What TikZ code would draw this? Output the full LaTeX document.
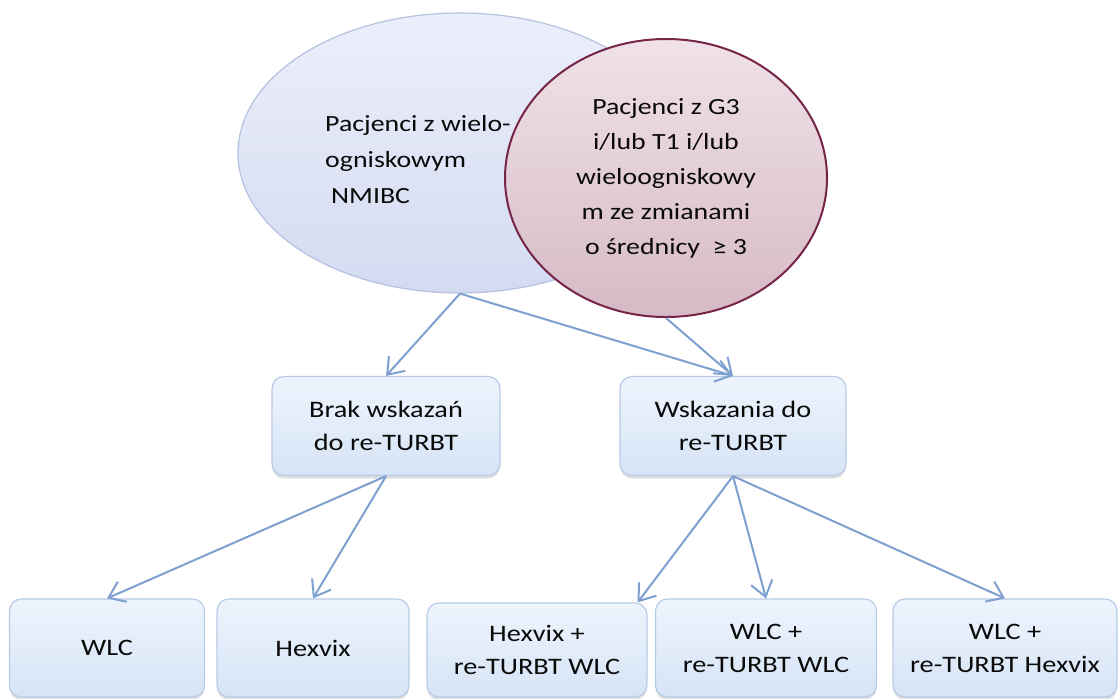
\documentclass[tikz,border=0pt]{standalone}
\usepackage{fontspec}
\setmainfont{Carlito}[FakeStretch=1.2]
\usetikzlibrary{shapes.geometric,shadows,arrows.meta}

\definecolor{elltop}{RGB}{236,239,251}
\definecolor{ellbot}{RGB}{212,219,241}
\definecolor{elldraw}{RGB}{180,194,224}
\definecolor{g3top}{RGB}{240,226,232}
\definecolor{g3bot}{RGB}{214,186,197}
\definecolor{g3draw}{RGB}{118,36,72}
\definecolor{boxtop}{RGB}{238,244,253}
\definecolor{boxbot}{RGB}{214,228,246}
\definecolor{boxdraw}{RGB}{184,203,230}
\definecolor{arrowcol}{RGB}{126,160,208}
\definecolor{txt}{RGB}{10,10,10}

\begin{document}
\begin{tikzpicture}[x=0.5pt,y=-0.5pt]

      \useasboundingbox (0,0) rectangle (1118,698);

      \begin{scope}[every node/.style={ellipse,inner sep=0pt,text=txt}]
        \node[draw=elldraw,line width=0.6pt,top color=elltop,bottom color=ellbot,
              minimum width=222pt,minimum height=140pt] (wielo) at (460,153) {};
        \node[draw=g3draw,line width=1pt,top color=g3top,bottom color=g3bot,
              minimum width=161pt,minimum height=139pt,align=center,
              font=\fontsize{11.6pt}{17.5pt}\selectfont] (g3) at (666,178)
              {Pacjenci z G3\\ i/lub T1 i/lub\\ wieloogniskowy\\ m ze zmianami\\ o średnicy \ ≥ 3};
      \end{scope}

      \node[align=left,text=txt,font=\fontsize{11.6pt}{18pt}\selectfont] (wielotxt) at (418,160)
            {Pacjenci z wielo-\\ ogniskowym\\ \hspace{3pt}NMIBC};

      \begin{scope}[every node/.style={rectangle,rounded corners=6pt,draw=boxdraw,line width=0.6pt,
                    top color=boxtop,bottom color=boxbot,align=center,text=txt,
                    font=\fontsize{11.8pt}{16.5pt}\selectfont,
                    drop shadow={shadow xshift=0pt,shadow yshift=-1.5pt,opacity=0.25}}]
        \node[minimum width=114pt,minimum height=49.5pt] (brak)      at (386,426)  {Brak wskazań\\ do re-TURBT};
        \node[minimum width=113pt,minimum height=49.5pt] (wskazania) at (733,426)  {Wskazania do\\ re-TURBT};
        \node[minimum width=97.5pt,minimum height=49pt]  (wlc)       at (107,648)  {WLC};
        \node[minimum width=96pt,minimum height=49pt]    (hexvix)    at (313,648)  {Hexvix};
        \node[minimum width=110pt,minimum height=47pt]   (hexrw)     at (537,650)  {Hexvix +\\ re-TURBT WLC};
        \node[minimum width=110.5pt,minimum height=49pt] (wlcrw)     at (766,648)  {WLC +\\ re-TURBT WLC};
        \node[minimum width=112pt,minimum height=49pt]   (wlcrh)     at (1005,648) {WLC +\\ re-TURBT Hexvix};
      \end{scope}

      \begin{scope}[every edge/.style={draw=arrowcol,line width=1pt,
                    -{Straight Barb[length=7.5pt,width=11pt,line width=1pt]}}]
        \path (wielo.south)     edge (brak.north);
        \path (wielo.south)     edge (wskazania.north);
        \path (g3.south)        edge (wskazania.north);
        \path (brak.south)      edge (wlc.north);
        \path (brak.south)      edge (hexvix.north);
        \path (wskazania.south) edge ([xshift=-5pt]hexrw.north east);
        \path (wskazania.south) edge (wlcrw.north);
        \path (wskazania.south) edge (wlcrh.north);
      \end{scope}

    \end{tikzpicture}
\end{document}
